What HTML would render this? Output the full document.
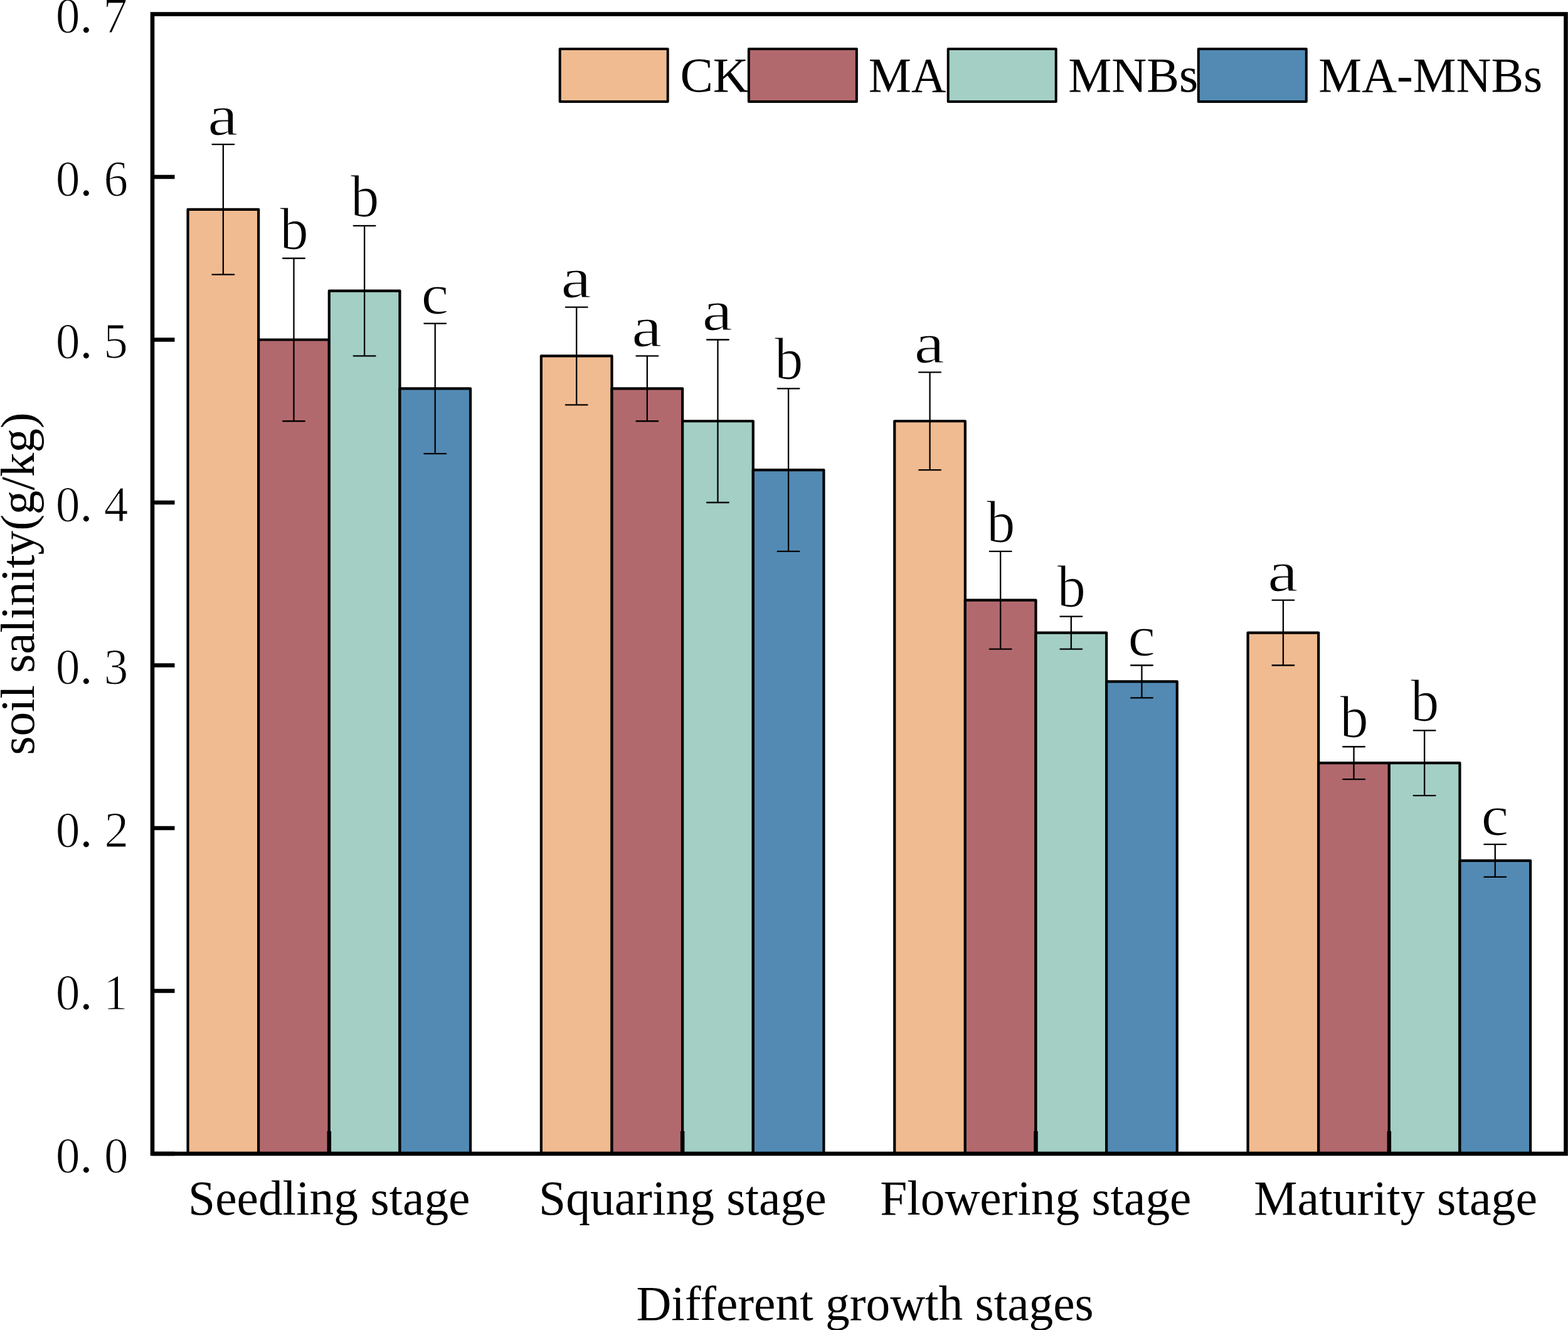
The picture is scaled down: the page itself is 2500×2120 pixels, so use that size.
<!DOCTYPE html>
<html><head><meta charset="utf-8"><title>soil salinity chart</title>
<style>html,body{margin:0;padding:0;background:#fff;}svg{display:block;}text{font-family:'Liberation Serif', 'Times New Roman', serif;fill:#000;}text.t{stroke:#fff;stroke-width:1.2px;}</style>
</head><body>
<svg width="2500" height="2120" viewBox="0 0 2500 2120">
<rect width="2500" height="2120" fill="#fff"/>
<g stroke="#000" stroke-width="4.20" stroke-linejoin="round"><rect x="299.54" y="333.90" width="112.63" height="1505.10" fill="#F0BB90"/><rect x="412.17" y="541.50" width="112.63" height="1297.50" fill="#B2696D"/><rect x="524.80" y="463.65" width="112.63" height="1375.35" fill="#A3CFC5"/><rect x="637.43" y="619.35" width="112.63" height="1219.65" fill="#528AB4"/><rect x="862.89" y="567.45" width="112.63" height="1271.55" fill="#F0BB90"/><rect x="975.52" y="619.35" width="112.63" height="1219.65" fill="#B2696D"/><rect x="1088.15" y="671.25" width="112.63" height="1167.75" fill="#A3CFC5"/><rect x="1200.78" y="749.10" width="112.63" height="1089.90" fill="#528AB4"/><rect x="1426.24" y="671.25" width="112.63" height="1167.75" fill="#F0BB90"/><rect x="1538.87" y="956.70" width="112.63" height="882.30" fill="#B2696D"/><rect x="1651.50" y="1008.60" width="112.63" height="830.40" fill="#A3CFC5"/><rect x="1764.13" y="1086.45" width="112.63" height="752.55" fill="#528AB4"/><rect x="1989.59" y="1008.60" width="112.63" height="830.40" fill="#F0BB90"/><rect x="2102.22" y="1216.20" width="112.63" height="622.80" fill="#B2696D"/><rect x="2214.85" y="1216.20" width="112.63" height="622.80" fill="#A3CFC5"/><rect x="2327.48" y="1371.90" width="112.63" height="467.10" fill="#528AB4"/></g>
<path d="M524.80 1839.00V1803.00 M1088.15 1839.00V1803.00 M1651.50 1839.00V1803.00 M2214.85 1839.00V1803.00 M243 1839.00H278.5 M243 1579.50H278.5 M243 1320.00H278.5 M243 1060.50H278.5 M243 801.00H278.5 M243 541.50H278.5 M243 282.00H278.5" stroke="#000" stroke-width="6.5" fill="none"/>
<path d="M355.85 437.70V230.10M338.45 230.10H373.25M338.45 437.70H373.25M468.48 671.25V411.75M451.08 411.75H485.88M451.08 671.25H485.88M581.12 567.45V359.85M563.72 359.85H598.51M563.72 567.45H598.51M693.74 723.15V515.55M676.34 515.55H711.14M676.34 723.15H711.14M919.21 645.30V489.60M901.81 489.60H936.61M901.81 645.30H936.61M1031.84 671.25V567.45M1014.44 567.45H1049.24M1014.44 671.25H1049.24M1144.47 801.00V541.50M1127.07 541.50H1161.87M1127.07 801.00H1161.87M1257.10 878.85V619.35M1239.69 619.35H1274.50M1239.69 878.85H1274.50M1482.56 749.10V593.40M1465.15 593.40H1499.96M1465.15 749.10H1499.96M1595.18 1034.55V878.85M1577.78 878.85H1612.59M1577.78 1034.55H1612.59M1707.82 1034.55V982.65M1690.41 982.65H1725.22M1690.41 1034.55H1725.22M1820.44 1112.40V1060.50M1803.04 1060.50H1837.85M1803.04 1112.40H1837.85M2045.91 1060.50V956.70M2028.51 956.70H2063.31M2028.51 1060.50H2063.31M2158.54 1242.15V1190.25M2141.14 1190.25H2175.94M2141.14 1242.15H2175.94M2271.17 1268.10V1164.30M2253.77 1164.30H2288.57M2253.77 1268.10H2288.57M2383.80 1397.85V1345.95M2366.40 1345.95H2401.20M2366.40 1397.85H2401.20" stroke="#000" stroke-width="2.30" stroke-linecap="round" fill="none"/>
<rect x="243" y="22.5" width="2253.5" height="1816.5" fill="none" stroke="#000" stroke-width="6.6"/>
<text class="t" transform="translate(330.91,214.95) scale(1.1933,1)" font-size="91.65">a</text>
<text class="t" transform="translate(446.28,396.57) scale(0.9520,1)" font-size="95.51">b</text>
<text class="t" transform="translate(558.91,344.67) scale(0.9520,1)" font-size="95.51">b</text>
<text class="t" transform="translate(671.43,500.40) scale(1.0790,1)" font-size="91.69">c</text>
<text class="t" transform="translate(894.26,474.45) scale(1.1933,1)" font-size="91.65">a</text>
<text class="t" transform="translate(1006.89,552.30) scale(1.1933,1)" font-size="91.65">a</text>
<text class="t" transform="translate(1119.52,526.35) scale(1.1933,1)" font-size="91.65">a</text>
<text class="t" transform="translate(1234.89,604.17) scale(0.9520,1)" font-size="95.51">b</text>
<text class="t" transform="translate(1457.61,578.25) scale(1.1933,1)" font-size="91.65">a</text>
<text class="t" transform="translate(1572.98,863.67) scale(0.9520,1)" font-size="95.51">b</text>
<text class="t" transform="translate(1685.62,967.47) scale(0.9520,1)" font-size="95.51">b</text>
<text class="t" transform="translate(1798.13,1045.35) scale(1.0790,1)" font-size="91.69">c</text>
<text class="t" transform="translate(2020.96,941.55) scale(1.1933,1)" font-size="91.65">a</text>
<text class="t" transform="translate(2136.34,1175.07) scale(0.9520,1)" font-size="95.51">b</text>
<text class="t" transform="translate(2248.97,1149.12) scale(0.9520,1)" font-size="95.51">b</text>
<text class="t" transform="translate(2361.48,1330.80) scale(1.0790,1)" font-size="91.69">c</text>
<text class="t" transform="translate(88.78,1868.97) scale(0.9730,1)" font-size="80.02">0</text>
<text class="t" transform="translate(126.40,1868.53) scale(1.0098,1)" font-size="86.32">.</text>
<text class="t" transform="translate(165.99,1868.97) scale(0.9650,1)" font-size="80.02">0</text>
<text class="t" transform="translate(88.78,1609.47) scale(0.9730,1)" font-size="80.02">0</text>
<text class="t" transform="translate(126.40,1609.03) scale(1.0098,1)" font-size="86.32">.</text>
<text class="t" transform="translate(164.92,1609.47) scale(0.9650,1)" font-size="80.02">1</text>
<text class="t" transform="translate(88.78,1349.97) scale(0.9730,1)" font-size="80.02">0</text>
<text class="t" transform="translate(126.40,1349.53) scale(1.0098,1)" font-size="86.32">.</text>
<text class="t" transform="translate(166.43,1349.97) scale(0.9650,1)" font-size="80.02">2</text>
<text class="t" transform="translate(88.78,1090.47) scale(0.9730,1)" font-size="80.02">0</text>
<text class="t" transform="translate(126.40,1090.03) scale(1.0098,1)" font-size="86.32">.</text>
<text class="t" transform="translate(165.66,1090.47) scale(0.9650,1)" font-size="80.02">3</text>
<text class="t" transform="translate(88.78,830.97) scale(0.9730,1)" font-size="80.02">0</text>
<text class="t" transform="translate(126.40,830.53) scale(1.0098,1)" font-size="86.32">.</text>
<text class="t" transform="translate(165.84,830.97) scale(0.9650,1)" font-size="80.02">4</text>
<text class="t" transform="translate(88.78,571.47) scale(0.9730,1)" font-size="80.02">0</text>
<text class="t" transform="translate(126.40,571.03) scale(1.0098,1)" font-size="86.32">.</text>
<text class="t" transform="translate(165.26,571.47) scale(0.9650,1)" font-size="80.02">5</text>
<text class="t" transform="translate(88.78,311.97) scale(0.9730,1)" font-size="80.02">0</text>
<text class="t" transform="translate(126.40,311.53) scale(1.0098,1)" font-size="86.32">.</text>
<text class="t" transform="translate(165.49,311.97) scale(0.9650,1)" font-size="80.02">6</text>
<text class="t" transform="translate(88.78,52.47) scale(0.9730,1)" font-size="80.02">0</text>
<text class="t" transform="translate(126.40,52.03) scale(1.0098,1)" font-size="86.32">.</text>
<text class="t" transform="translate(164.56,52.47) scale(0.9650,1)" font-size="80.02">7</text>
<rect x="892.70" y="78.0" width="172.0" height="84.0" fill="#F0BB90" stroke="#000" stroke-width="4" stroke-linejoin="round"/>
<text transform="translate(1084.48,145.80) scale(0.9998,1)" font-size="78.5">CK</text>
<rect x="1193.85" y="78.0" width="172.0" height="84.0" fill="#B2696D" stroke="#000" stroke-width="4" stroke-linejoin="round"/>
<text transform="translate(1384.79,145.80) scale(0.9761,1)" font-size="78.5">MA</text>
<rect x="1511.70" y="78.0" width="172.0" height="84.0" fill="#A3CFC5" stroke="#000" stroke-width="4" stroke-linejoin="round"/>
<text transform="translate(1703.16,145.80) scale(0.9892,1)" font-size="78.5">MNBs</text>
<rect x="1910.80" y="78.0" width="172.0" height="84.0" fill="#528AB4" stroke="#000" stroke-width="4" stroke-linejoin="round"/>
<text transform="translate(2102.37,145.80) scale(0.9856,1)" font-size="78.5">MA-MNBs</text>
<text transform="translate(300.12,1936.40) scale(0.9926,1)" font-size="78">Seedling stage</text>
<text transform="translate(859.01,1936.40) scale(0.9941,1)" font-size="78">Squaring stage</text>
<text transform="translate(1403.27,1936.40) scale(0.9916,1)" font-size="78">Flowering stage</text>
<text transform="translate(1999.16,1936.40) scale(0.9983,1)" font-size="78">Maturity stage</text>
<text transform="translate(1014.47,2103.60) scale(0.9923,1)" font-size="78">Different growth stages</text>
<g transform="rotate(-90)"><text transform="translate(-1203.56,54.4) scale(1.0149,1)" font-size="76">soil salinity(g/kg)</text></g>
</svg>
</body></html>
